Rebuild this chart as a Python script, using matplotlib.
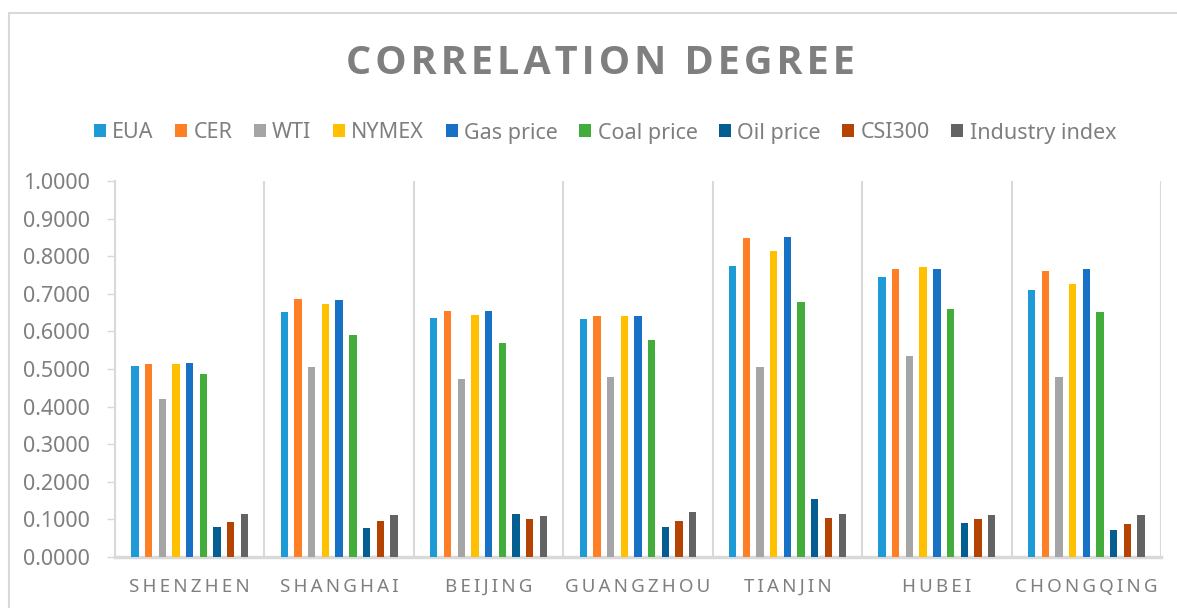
import matplotlib.pyplot as plt
import numpy as np
from matplotlib.patches import Patch, Rectangle

plt.rcParams['font.family'] = ['Noto Sans', 'DejaVu Sans']

cities = ['SHENZHEN', 'SHANGHAI', 'BEIJING', 'GUANGZHOU', 'TIANJIN', 'HUBEI', 'CHONGQING']
series = ['EUA', 'CER', 'WTI', 'NYMEX', 'Gas price', 'Coal price', 'Oil price', 'CSI300', 'Industry index']

eua = [0.5075, 0.6525, 0.6366, 0.6322, 0.7745, 0.7445, 0.7091]
cer = [0.5146, 0.6852, 0.6543, 0.6410, 0.8479, 0.7648, 0.7595]
wti = [0.4209, 0.5040, 0.4739, 0.4792, 0.5057, 0.5349, 0.4783]
nymex = [0.5120, 0.6730, 0.6437, 0.6410, 0.8143, 0.7701, 0.7268]
gas = [0.5164, 0.6835, 0.6534, 0.6410, 0.8523, 0.7657, 0.7657]
coal = [0.4854, 0.5906, 0.5694, 0.5765, 0.6790, 0.6596, 0.6508]
oil = [0.0805, 0.0760, 0.1150, 0.0805, 0.1547, 0.0893, 0.0716]
csi = [0.0920, 0.0946, 0.0999, 0.0946, 0.1026, 0.0999, 0.0866]
industry = [0.1150, 0.1105, 0.1088, 0.1185, 0.1150, 0.1123, 0.1105]

values = [eua, cer, wti, nymex, gas, coal, oil, csi, industry]
colors = ['#1e9ad6', '#ff7f27', '#a5a5a5', '#ffc000', '#1772c6',
          '#43ad3b', '#055e92', '#b54403', '#636363']

grey = '#7f7f7f'
line_grey = '#d9d9d9'

fig = plt.figure(figsize=(11.77, 6.08), dpi=100)
ax = fig.add_axes([115 / 1177, 1 - 557 / 608, (1161 - 115) / 1177, (557 - 181) / 608])

x = np.arange(len(cities))
step = 0.0917
width = 0.049
for j, (vals, col) in enumerate(zip(values, colors)):
    ax.bar(x + (j - 4) * step, vals, width=width, color=col, zorder=3)

ax.set_xlim(-0.5, len(cities) - 0.5)
ax.set_ylim(0, 1)
ax.set_yticks(np.arange(0, 1.01, 0.1))
ax.yaxis.set_major_formatter(plt.FormatStrFormatter('%.4f'))

# separators between the cities
ax.set_xticks(np.arange(-0.5, len(cities), 1.0), minor=True)
ax.grid(True, which='minor', axis='x', color=line_grey, linewidth=1.5, zorder=0)
ax.set_xticks(x)
ax.set_xticklabels(['\u2009'.join(c) for c in cities])
ax.tick_params(axis='x', which='both', length=0, pad=15, labelsize=13.5, labelcolor=grey)
ax.tick_params(axis='y', length=6, width=1, color=line_grey, labelsize=15.5, labelcolor=grey, pad=12)

for side in ['top', 'right']:
    ax.spines[side].set_visible(False)
ax.spines['left'].set_color(line_grey)
ax.spines['left'].set_linewidth(1.5)
ax.spines['bottom'].set_color(line_grey)
ax.spines['bottom'].set_linewidth(2.5)

# chart frame
fig.patches.append(Rectangle((9 / 1177, -0.2), 1.2, 1.2 + (608 - 13) / 608 - 1.0,
                             transform=fig.transFigure, fill=False,
                             edgecolor=line_grey, linewidth=1.5))

fig.text(600 / 1177, 1 - 64 / 608, '\u200a'.join('CORRELATION DEGREE'), ha='center', va='center',
         fontsize=28.5, fontweight='bold', color=grey, family=['Open Sans', 'DejaVu Sans'])

handles = [Patch(facecolor=c, label=s) for c, s in zip(colors, series)]
fig.legend(handles=handles, loc='center', bbox_to_anchor=(605 / 1177, 1 - 133 / 608),
           ncol=9, frameon=False, fontsize=15.5, labelcolor=grey,
           handlelength=0.55, handleheight=0.55, handletextpad=0.3, columnspacing=1.0)

fig.savefig('out.png', dpi=100)
